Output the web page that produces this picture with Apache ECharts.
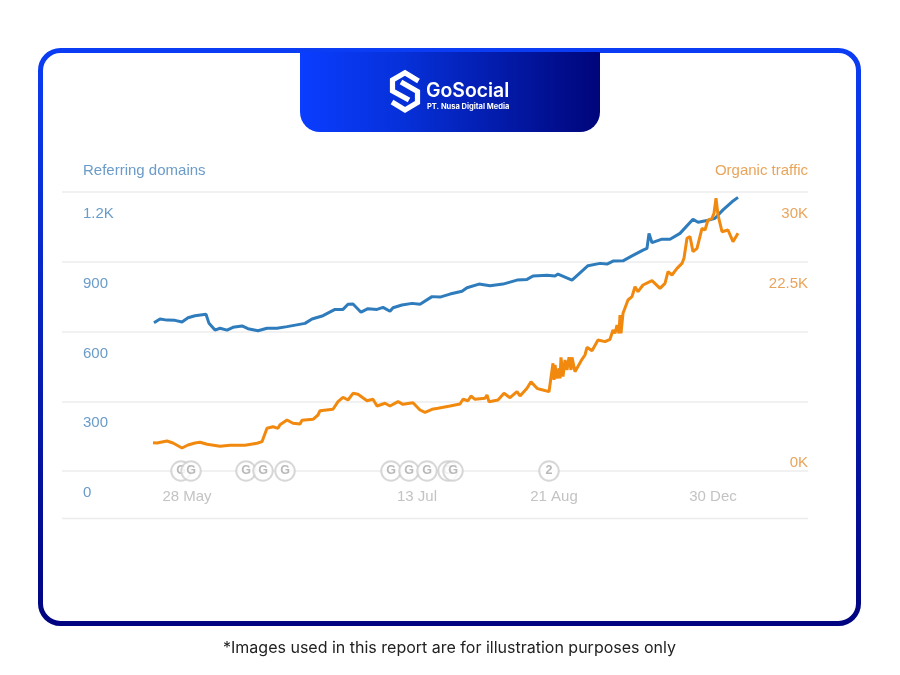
<!DOCTYPE html>
<html><head><meta charset="utf-8">
<style>html,body{margin:0;padding:0;background:#fff}#c{width:900px;height:675px}</style>
<script src="https://cdn.jsdelivr.net/npm/echarts@6/dist/echarts.min.js"></script>
</head><body><div id="c"></div>
<script>
const domainX=[92,98,105,113,120,126,133,144,147,153,158,165,171,180,186,196,205,215,225,243,250,261,273,281,286,291,299,306,315,321,328,331,340,350,358,370,378,388,400,405,417,428,441,455,465,471,485,493,496,510,526,538,545,551,561,570,581,585,587,590,600,608,618,631,636,645,653,661,670,676];
const domainValues=[638,654,649,648,641,659,668,674,635,606,614,606,618,624,612,603,614,614,621,635,654,668,695,695,717,718,683,698,695,704,687,702,714,721,717,750,748,761,773,788,804,797,804,821,824,839,842,839,847,821,883,893,890,903,904,925,950,958,1022,982,997,997,1022,1083,1070,1077,1087,1123,1158,1177];
const trafficX=[91,93,95,105,111,120,126,133,138,145,158,168,183,195,200,205,211,216,218,225,231,238,240,251,256,258,271,276,281,286,291,296,305,311,315,323,328,336,341,351,358,363,370,376,388,398,401,406,409,413,423,425,427,436,442,448,455,458,465,469,475,478,487,491,492,493,495,497,498,499,501,503,505,507,509,510,513,515,520,523,525,530,536,543,548,551,553,555,557,558,559,561,566,570,573,576,581,590,598,603,606,610,615,620,622,625,628,631,635,640,643,646,650,652,654,656,660,666,671,676];
const trafficValues=[3043,3226,3011,3226,3011,2473,2796,3011,3086,2871,2656,2763,2763,2979,3151,4591,4763,4591,4979,5484,5129,5054,5452,5559,6022,6484,6635,7452,7925,7634,8355,8247,7559,7710,6990,7280,6990,7452,7172,7344,6559,6312,6635,6742,6990,7204,7710,7559,8065,7710,7817,8172,7452,7634,8355,7882,8527,8065,8893,9602,8893,8783,8530,11577,9785,11398,9964,11040,9964,12222,10144,11936,10860,12222,10860,12222,10682,10682,12007,12473,13298,12939,14086,13907,14158,15161,14803,15700,14803,16775,14803,16954,18387,18746,19817,19280,20000,20466,19640,20180,21433,21075,21793,22331,22870,25019,25197,23581,23940,26095,25910,26988,27170,27708,29323,27527,25731,25911,24657,25555];
const xTickValues=[125,355,492,651];
const xTickLabels=['28 May','13 Jul','21 Aug','30 Dec'];
const leftTicks=[0,300,600,900,1200];
const leftLabels=['0','300','600','900','1.2K'];
const rightTicks=[0,22500,30000];
const rightLabels=['0K','22.5K','30K'];
const updateX=[119,129,184,201,223,329,347,365,386,391,487];
const updateMarks=['G','G','G','G','G','G','G','G','G','G','2'];

const zip=(a,b)=>a.map((v,i)=>[v,b[i]]);
const FONT='"Liberation Sans",Arial,sans-serif';
const BLUE='#6a9bc9', ORANGE='#e9a45c', GREY='#c3c3c3';
const chart=echarts.init(document.getElementById('c'),null,{renderer:'canvas',width:900,height:675});
const iconSeries=updateX.map((x,i)=>({
  type:'scatter',yAxisIndex:0,symbol:'circle',symbolSize:19.5,z:5+i,silent:true,
  itemStyle:{color:'#fff',borderColor:'#cdcdcd',borderWidth:2},
  label:{show:true,position:'inside',formatter:updateMarks[i],color:'#a8a8a8',fontSize:12.5,fontWeight:'bold',fontFamily:FONT},
  data:[[x,0]]
}));
chart.setOption({
  animation:false,
  backgroundColor:'#fff',
  grid:{left:62,right:92,top:192,bottom:204,containLabel:false},
  xAxis:{type:'value',min:0,max:746,
    axisLine:{show:false},axisTick:{show:false},splitLine:{show:false},
    axisLabel:{customValues:xTickValues,margin:18,color:GREY,fontSize:15,fontFamily:FONT,
      formatter:v=>xTickLabels[xTickValues.indexOf(v)]||''}},
  yAxis:[
    {type:'value',min:0,max:1200,interval:300,
     axisLine:{show:false},axisTick:{show:false},
     splitLine:{show:true,lineStyle:{color:'#ececec',width:1.5}},
     axisLabel:{inside:true,margin:21,color:BLUE,
       formatter:v=>'{a|'+leftLabels[leftTicks.indexOf(v)]+'}',
       rich:{a:{color:BLUE,fontSize:15,fontFamily:FONT,padding:[44,0,0,0]}}}},
    {type:'value',position:'right',min:0,max:30000,
     axisLine:{show:false},axisTick:{show:false},splitLine:{show:false},
     axisLabel:{inside:true,margin:0,customValues:rightTicks,
       formatter:v=>(v===0?'{b|':'{a|')+rightLabels[rightTicks.indexOf(v)]+'}',
       rich:{a:{color:ORANGE,fontSize:15,fontFamily:FONT,padding:[44,0,0,0]},
             b:{color:ORANGE,fontSize:15,fontFamily:FONT,padding:[0,0,16,0]}}}}
  ],
  series:[
    {name:'Referring domains',type:'line',yAxisIndex:0,z:3,showSymbol:false,
     lineStyle:{color:'#2f7cbc',width:3},data:zip(domainX,domainValues)},
    {name:'Organic traffic',type:'line',yAxisIndex:1,z:4,showSymbol:false,
     lineStyle:{color:'#f2890f',width:3},data:zip(trafficX,trafficValues)}
  ].concat(iconSeries),
  graphic:[
    {type:'rect',z:-10,shape:{x:40.5,y:50.5,width:818,height:573,r:20},
     style:{fill:'#fff',lineWidth:5,stroke:{type:'linear',x:0,y:0,x2:0,y2:1,colorStops:[{offset:0,color:'#0b3df5'},{offset:1,color:'#01047f'}]}}},
    {type:'rect',z:-9,shape:{x:300,y:52,width:300,height:80,r:[0,0,20,20]},
     style:{fill:{type:'linear',x:0,y:0,x2:1,y2:0,colorStops:[{offset:0,color:'#0a3dff'},{offset:0.35,color:'#0630d8'},{offset:1,color:'#00057a'}]}}},
    {type:'polyline',z:-8,shape:{points:[[418.5,81],[405,72.8],[392.5,80],[392.5,91],[409,100]]},style:{fill:null,stroke:'#fff',lineWidth:5.2,lineJoin:'miter'}},
    {type:'polyline',z:-8,shape:{points:[[392,102],[405,110],[417.5,102.5],[417.5,91.5],[401,82]]},style:{fill:null,stroke:'#fff',lineWidth:5.2,lineJoin:'miter'}},
    {type:'text',z:-8,style:{x:426,y:91,text:'GoSocial',fill:'#fff',font:'600 19.4px Inter,sans-serif',textVerticalAlign:'middle'}},
    {type:'text',z:-8,style:{x:427,y:107,text:'PT. Nusa Digital Media',fill:'#fff',font:'700 7.5px Inter,sans-serif',textVerticalAlign:'middle'}},
    {type:'text',z:-8,style:{x:83,y:171,text:'Referring domains',fill:BLUE,font:'15px '+FONT,textVerticalAlign:'middle'}},
    {type:'text',z:-8,style:{x:808,y:171,text:'Organic traffic',fill:ORANGE,font:'15px '+FONT,textVerticalAlign:'middle',textAlign:'right'}},
    {type:'line',z:-8,shape:{x1:62,y1:518.5,x2:808,y2:518.5},style:{stroke:'#ececec',lineWidth:1.5}},
    {type:'text',z:-8,style:{x:449.5,y:648,text:'*Images used in this report are for illustration purposes only',fill:'#222',font:'16px Inter,sans-serif',textAlign:'center',textVerticalAlign:'middle'}}
  ]
});
</script></body></html>
